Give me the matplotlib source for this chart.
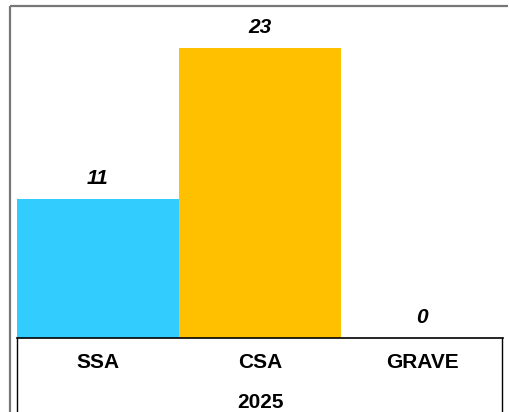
import matplotlib.pyplot as plt
from matplotlib.lines import Line2D
from matplotlib.transforms import blended_transform_factory

plt.rcParams['font.family'] = ['Liberation Sans', 'DejaVu Sans']

# datos
categorias = ['SSA', 'CSA', 'GRAVE']
valores = [11, 23, 0]
colores = ['#33CCFF', '#FFC000', '#FFC000']
anio = '2025'

W, H = 509, 412
fig = plt.figure(figsize=(W / 100, H / 100), dpi=100)

# area del grafico en pixeles
x0, x1 = 17, 503
y_base = 338
px_unidad = (338 - 48) / 23
ymax = 25
y_top = y_base - ymax * px_unidad
ax = fig.add_axes([x0 / W, 1 - y_base / H, (x1 - x0) / W, (y_base - y_top) / H])

x = list(range(len(categorias)))
ax.bar(x, valores, width=1.0, color=colores)
ax.set_xlim(-0.5, len(categorias) - 0.5)
ax.set_ylim(0, ymax)

for xi, v in zip(x, valores):
    ax.annotate(str(v), (xi, v), xytext=(0, 15 * 72 / 100), textcoords='offset points',
                ha='center', va='baseline', fontsize=15, fontweight='bold', fontstyle='italic')

for s in ['top', 'left', 'right']:
    ax.spines[s].set_visible(False)
ax.spines['bottom'].set_color('black')
ax.spines['bottom'].set_linewidth(1.2)
ax.set_xticks([])
ax.set_yticks([])

# etiquetas de categoria y anio
tr = blended_transform_factory(ax.transData, fig.transFigure)
for xi, c in zip(x, categorias):
    ax.text(xi, 1 - 362 / H, c, transform=tr, ha='center', va='center',
            fontsize=15, fontweight='bold')
fig.text((x0 + x1) / 2 / W, 1 - 402 / H, anio, ha='center', va='center',
         fontsize=15, fontweight='bold')

# lineas de la tabla
fig.add_artist(Line2D([x0 / W, x0 / W], [0, 1 - y_base / H], color='black', lw=1))
fig.add_artist(Line2D([(x1 - 1) / W, (x1 - 1) / W], [0, 1 - y_base / H], color='black', lw=1))

# marco exterior
fig.add_artist(Line2D([9.5 / W, 508 / W], [1 - 5.5 / H, 1 - 5.5 / H], color='#777777', lw=1.6,
                      solid_capstyle='butt'))
fig.add_artist(Line2D([9.5 / W, 9.5 / W], [0, 1 - 5.5 / H], color='#777777', lw=1.6,
                      solid_capstyle='butt'))

fig.savefig('out.png', dpi=100)
